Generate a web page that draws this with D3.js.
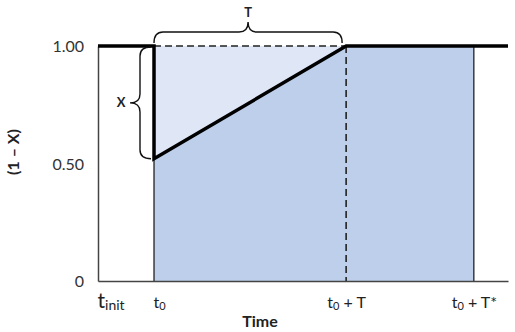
<!DOCTYPE html>
<html>
<head>
<meta charset="utf-8">
<script src="https://cdn.jsdelivr.net/npm/d3@7"></script>
<style>
  body { margin: 0; background: #fff; }
  svg { display: block; font-family: Lato, "Open Sans", sans-serif; }
</style>
</head>
<body>
<div id="chart"></div>
<script>
// tick values / labels
var yTicks = [0, 0.5, 1];
var yTickLabels = ["0", "0.50", "1.00"];
var xTicks = [0, 1, 4.43, 6.71];
var xTickMain = ["t", "t", "t", "t"];
var xTickSub = ["init", "0", "0", "0"];
var xTickRest = ["", "", " + T", " + T*"];

// the (1 - X) curve
var curveTimes = [0, 1, 1, 4.43, 7.32];
var curveValues = [1, 1, 0.52, 1, 1];

// filled region under the curve (t0 .. t0+T*)
var fillTimes = [1, 4.43, 6.71];
var fillValues = [0.52, 1, 1];

var width = 515, height = 332;

var svg = d3.select("#chart").append("svg")
  .attr("width", width)
  .attr("height", height);

var x = d3.scaleLinear().domain([0, 7.32]).range([98, 508]);
var y = d3.scaleLinear().domain([0, 1]).range([281, 46]);

var fillPts = fillTimes.map(function(t, i) { return { t: t, v: fillValues[i] }; });
var curvePts = curveTimes.map(function(t, i) { return { t: t, v: curveValues[i] }; });

// dark area below curve
svg.append("path")
  .datum(fillPts)
  .attr("fill", "#bdcfea")
  .attr("d", d3.area().x(d => x(d.t)).y0(y(0)).y1(d => y(d.v)));

// light area between curve and 1.00
svg.append("path")
  .datum(fillPts.slice(0, 2))
  .attr("fill", "#dfe6f6")
  .attr("d", d3.area().x(d => x(d.t)).y0(d => y(d.v)).y1(y(1)));

// thin borders of the filled block
svg.append("line")
  .attr("x1", x(fillTimes[0])).attr("x2", x(fillTimes[0]))
  .attr("y1", y(0)).attr("y2", y(fillValues[0]))
  .attr("stroke", "#222").attr("stroke-width", 1.3);
svg.append("line")
  .attr("x1", x(fillTimes[2])).attr("x2", x(fillTimes[2]))
  .attr("y1", y(0)).attr("y2", y(1))
  .attr("stroke", "#222").attr("stroke-width", 1.3);

// dashed guides
svg.append("line")
  .attr("x1", x(xTicks[1])).attr("x2", x(xTicks[2]))
  .attr("y1", y(1)).attr("y2", y(1))
  .attr("stroke", "#222").attr("stroke-width", 1.5)
  .attr("stroke-dasharray", "7,4");
svg.append("line")
  .attr("x1", x(xTicks[2])).attr("x2", x(xTicks[2]))
  .attr("y1", y(1)).attr("y2", y(0))
  .attr("stroke", "#222").attr("stroke-width", 1.6)
  .attr("stroke-dasharray", "7,4");

// axes
var yAxis = d3.axisLeft(y)
  .tickValues(yTicks)
  .tickSize(0)
  .tickPadding(14)
  .tickFormat(function(d, i) { return yTickLabels[i]; });
var gy = svg.append("g")
  .attr("transform", "translate(" + x(0) + ",0)")
  .call(yAxis);
gy.select(".domain").attr("stroke", "#444").attr("stroke-width", 1.5);
gy.selectAll("text")
  .attr("font-size", 16)
  .attr("font-family", "Lato, sans-serif")
  .attr("fill", "#333")
  .attr("dy", "0.35em");

var xAxis = d3.axisBottom(x)
  .tickValues(xTicks)
  .tickSize(0)
  .tickFormat("");
var gx = svg.append("g")
  .attr("transform", "translate(0," + y(0) + ")")
  .call(xAxis);
gx.select(".domain").attr("stroke", "#444").attr("stroke-width", 1.5);

gx.selectAll(".tick text").remove();
gx.selectAll(".tick").each(function(d, i) {
  var first = i === 0;
  var t = d3.select(this).append("text")
    .attr("y", 27)
    .attr("x", i < 2 ? -1 : 0)
    .attr("text-anchor", i < 2 ? "start" : "middle")
    .attr("fill", "#222")
    .attr("font-family", "Lato, sans-serif");
  t.append("tspan").attr("font-size", first ? 21 : 16).text(xTickMain[i]);
  t.append("tspan").attr("font-size", first ? 14 : 11).attr("dy", 2).text(xTickSub[i]);
  if (xTickRest[i]) {
    t.append("tspan").attr("font-size", 16).attr("dy", -2).text(xTickRest[i]);
  }
});

// main curve
svg.append("path")
  .datum(curvePts)
  .attr("fill", "none")
  .attr("stroke", "#000")
  .attr("stroke-width", 3.5)
  .attr("stroke-linejoin", "miter")
  .attr("d", d3.line().x(d => x(d.t)).y(d => y(d.v)));

// curly brace: a..b along the main axis, e at ends, depth to tip
function bracePath(a, b, e, dir, flip) {
  var m = (a + b) / 2, r = 9;
  var f = e + dir * 11, tip = e + dir * 21;
  var pts = [
    ["M", a, e],
    ["Q", a, f, a + r, f],
    ["L", m - r, f],
    ["Q", m, f, m, tip],
    ["Q", m, f, m + r, f],
    ["L", b - r, f],
    ["Q", b, f, b, e]
  ];
  return pts.map(function(p) {
    var s = p[0];
    for (var k = 1; k < p.length; k += 2) {
      s += flip ? " " + p[k + 1] + "," + p[k] : " " + p[k] + "," + p[k + 1];
    }
    return s;
  }).join(" ");
}

// T brace on top
svg.append("path")
  .attr("d", bracePath(x(xTicks[1]), x(xTicks[2]) - 4, 43, -1, false))
  .attr("fill", "none").attr("stroke", "#111").attr("stroke-width", 1.4);
svg.append("text")
  .attr("x", (x(xTicks[1]) + x(xTicks[2]) - 4) / 2)
  .attr("y", 17)
  .attr("text-anchor", "middle")
  .attr("font-size", 13)
  .attr("font-weight", "bold")
  .attr("fill", "#222")
  .text("T");

// X brace on the left of the drop
svg.append("path")
  .attr("d", bracePath(y(1) + 1, y(fillValues[0]), 151, -1, true))
  .attr("fill", "none").attr("stroke", "#111").attr("stroke-width", 1.4);
svg.append("text")
  .attr("x", 121)
  .attr("y", (y(1) + y(fillValues[0])) / 2)
  .attr("dy", "0.35em")
  .attr("text-anchor", "middle")
  .attr("font-size", 13)
  .attr("font-weight", "bold")
  .attr("fill", "#222")
  .text("X");

// axis titles
svg.append("text")
  .attr("transform", "translate(19,152) rotate(-90)")
  .attr("text-anchor", "middle")
  .attr("font-size", 16)
  .attr("font-weight", "bold")
  .attr("fill", "#222")
  .text("(1 – X)");

svg.append("text")
  .attr("x", 260)
  .attr("y", 327)
  .attr("text-anchor", "middle")
  .attr("font-size", 16)
  .attr("font-weight", "bold")
  .attr("fill", "#222")
  .text("Time");
</script>
</body>
</html>
